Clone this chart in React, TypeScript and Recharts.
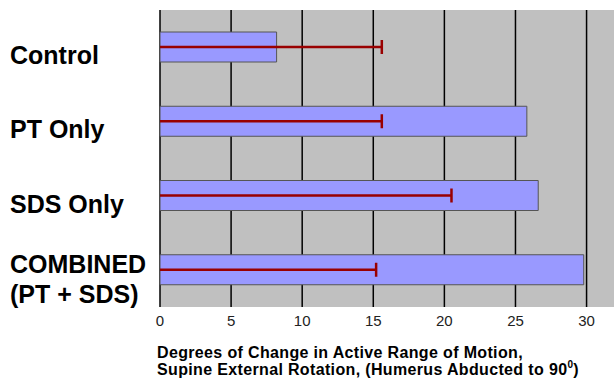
import React from "react";
import { BarChart, Bar, XAxis, YAxis, CartesianGrid, Label } from "recharts";

const categories = ["Control", "PT Only", "SDS Only", "COMBINED\n(PT + SDS)"];
const means = [8.2, 25.8, 26.6, 29.8];
const errors = [15.6, 15.6, 20.5, 15.2];
const xTicks = [0, 5, 10, 15, 20, 25, 30];
const titleLines = ["Degrees of Change in Active Range of Motion,", "Supine External Rotation, (Humerus Abducted to 90"];

const data = categories.map((name, i) => ({ name, value: means[i], err: errors[i] }));

const FONT = '"Liberation Sans", Arial, Helvetica, sans-serif';

const CategoryTick = (props: any) => {
  const { y, payload } = props;
  const lines = String(payload.value).split("\n");
  const n = lines.length;
  return (
    <text x={10} y={y} fontFamily={FONT} fontWeight="bold" fontSize={25} fill="#000" textAnchor="start">
      {lines.map((l, i) => (
        <tspan key={i} x={10} y={y + 17 - (n - 1) * 14 + i * 30}>
          {l}
        </tspan>
      ))}
    </text>
  );
};

const ErrorShape = (props: any) => {
  const { x, y, width, height } = props;
  const cy = y + height / 2;
  return (
    <g>
      <line x1={x} y1={cy} x2={x + width} y2={cy} stroke="#990000" strokeWidth={2.5} />
      <line x1={x + width} y1={cy - 7} x2={x + width} y2={cy + 7} stroke="#990000" strokeWidth={2.5} />
    </g>
  );
};

const TitleContent = (props: any) => {
  const { viewBox } = props;
  const x0 = viewBox.x - 3;
  const yb = viewBox.y + viewBox.height;
  return (
    <text fontFamily={FONT} fontWeight="bold" fontSize={16} letterSpacing={0.35} fill="#000">
      <tspan x={x0} y={yb + 21}>{titleLines[0]}</tspan>
      <tspan x={x0} y={yb + 38}>
        {titleLines[1]}
        <tspan fontSize={10} dy={-7}>0</tspan>
        <tspan dy={7}>)</tspan>
      </tspan>
    </text>
  );
};

export default function App() {
  return (
    <div style={{ position: "absolute", left: 0, top: 0, width: 614, height: 379, background: "#fff", overflow: "hidden" }}>
      <BarChart
        width={615}
        height={379}
        data={data}
        layout="vertical"
        margin={{ top: 10, right: 0, bottom: 42, left: 0 }}
        barSize={30}
        barGap={-30}
      >
        <CartesianGrid horizontal={false} vertical={true} syncWithTicks={true} stroke="#000" strokeWidth={1.5} fill="#C0C0C0" />
        <XAxis
          type="number"
          domain={[0, 32]}
          ticks={xTicks}
          axisLine={false}
          tickLine={false}
          tick={{ fontFamily: FONT, fontSize: 15, fill: "#222" }}
          height={30}
        >
          <Label content={<TitleContent />} position="insideBottomLeft" />
        </XAxis>
        <YAxis
          type="category"
          dataKey="name"
          width={160}
          axisLine={false}
          tickLine={false}
          tick={<CategoryTick />}
          interval={0}
        />
        <Bar dataKey="value" fill="#9999FF" stroke="#555" strokeWidth={1} isAnimationActive={false} />
        <Bar dataKey="err" shape={<ErrorShape />} isAnimationActive={false} />
      </BarChart>
    </div>
  );
}
